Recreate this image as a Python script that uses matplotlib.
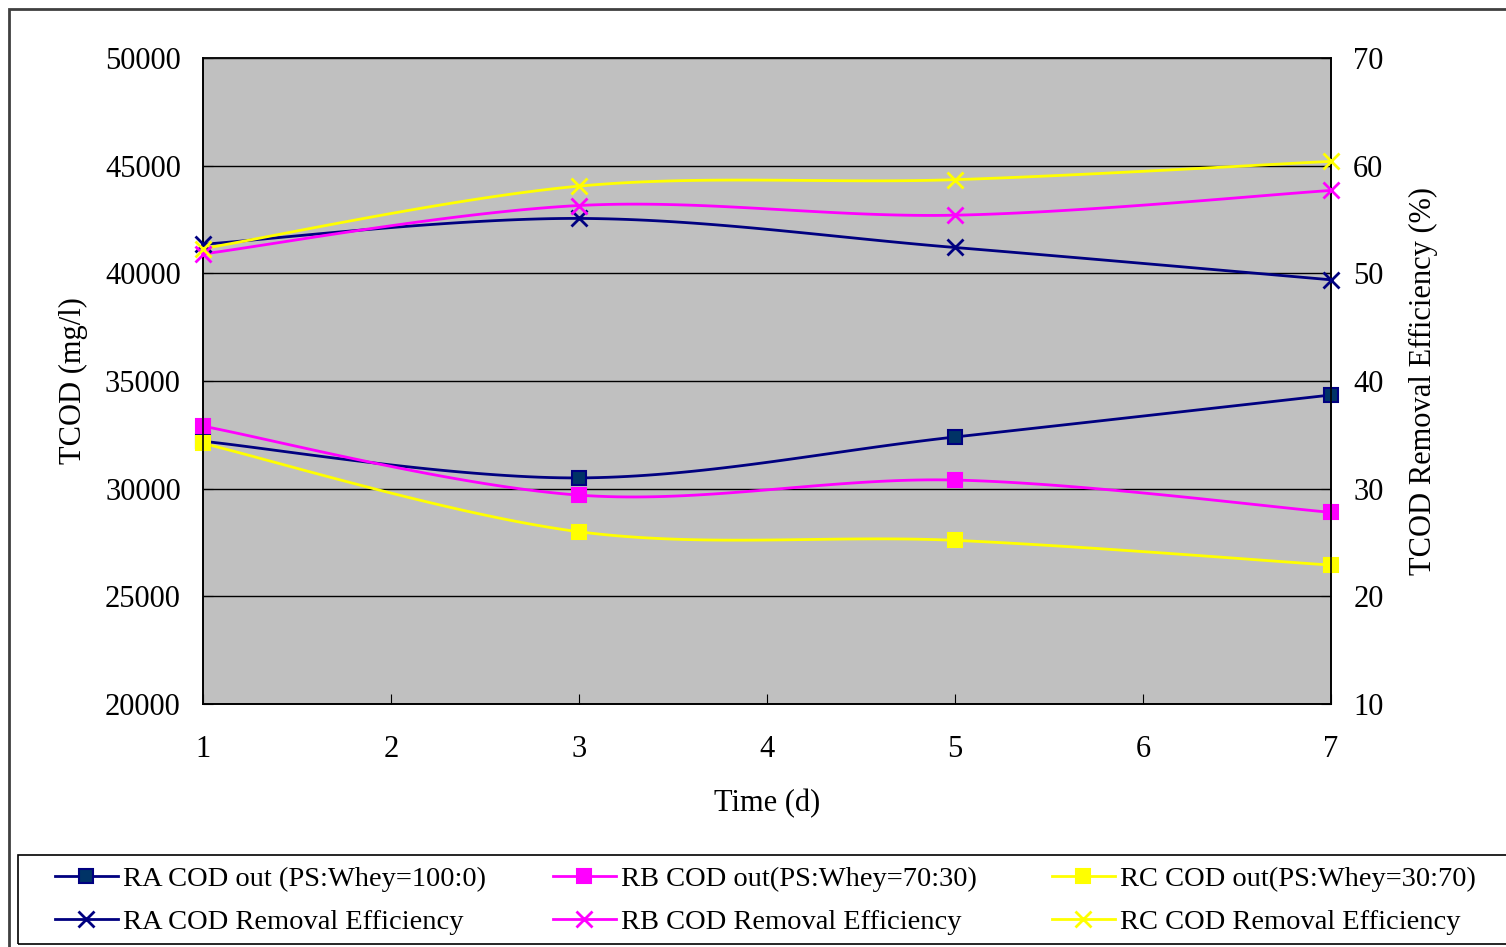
import matplotlib.pyplot as plt
from matplotlib.patches import Rectangle
import numpy as np

plt.rcParams['font.family'] = ['Liberation Serif', 'DejaVu Serif']

days = [1, 3, 5, 7]

# TCOD out (mg/l), left axis
ra_out = [32200, 30500, 32400, 34350]
rb_out = [32900, 29700, 30400, 28900]
rc_out = [32100, 28000, 27600, 26450]

# removal efficiency (%), right axis
ra_eff = [52.7, 55.1, 52.4, 49.4]
rb_eff = [51.8, 56.3, 55.4, 57.7]
rc_eff = [52.3, 58.1, 58.7, 60.4]


def smooth(x, y, n=40):
    # Excel-like smoothed line: cubic Bezier through each point
    x = np.asarray(x, float)
    y = np.asarray(y, float)
    px = np.concatenate([[x[0]], x, [x[-1]]])
    py = np.concatenate([[y[0]], y, [y[-1]]])
    xs, ys = [], []
    t = np.linspace(0, 1, n)
    for i in range(len(x) - 1):
        p0 = np.array([px[i + 1], py[i + 1]])
        p3 = np.array([px[i + 2], py[i + 2]])
        p1 = p0 + (np.array([px[i + 2], py[i + 2]]) - np.array([px[i], py[i]])) / 6
        p2 = p3 - (np.array([px[i + 3], py[i + 3]]) - np.array([px[i + 1], py[i + 1]])) / 6
        b = ((1 - t) ** 3)[:, None] * p0 + (3 * (1 - t) ** 2 * t)[:, None] * p1 \
            + (3 * (1 - t) * t ** 2)[:, None] * p2 + (t ** 3)[:, None] * p3
        xs.extend(b[:, 0])
        ys.extend(b[:, 1])
    return xs, ys


W, H = 1506, 947
fig = plt.figure(figsize=(W / 100, H / 100), dpi=100)
ax = fig.add_axes([203 / W, 1 - 704 / H, 1128 / W, 646 / H])
ax2 = ax.twinx()

ax.set_facecolor('#C0C0C0')
ax.set_zorder(0)
ax2.set_zorder(1)
ax2.patch.set_visible(False)

series = [
    (ax, ra_out, '#000080', 's', '#003366', 'RA COD out (PS:Whey=100:0)'),
    (ax2, ra_eff, '#000080', 'x', '#000080', 'RA COD Removal Efficiency'),
    (ax, rb_out, '#FF00FF', 's', '#FF00FF', 'RB COD out(PS:Whey=70:30)'),
    (ax2, rb_eff, '#FF00FF', 'x', '#FF00FF', 'RB COD Removal Efficiency'),
    (ax, rc_out, '#FFFF00', 's', '#FFFF00', 'RC COD out(PS:Whey=30:70)'),
    (ax2, rc_eff, '#FFFF00', 'x', '#FFFF00', 'RC COD Removal Efficiency'),
]

handles = []
for a, vals, col, mk, fc, lab in series:
    sx, sy = smooth(days, vals)
    a.plot(sx, sy, color=col, linewidth=2, zorder=3, clip_on=False)
    ms = 10 if mk == 's' else 12
    mew = 1.5 if mk == 's' else 2
    a.plot(days, vals, linestyle='none', marker=mk, markersize=ms,
           markerfacecolor=fc, markeredgecolor=col, markeredgewidth=mew,
           zorder=4, clip_on=False)
    h, = ax.plot([], [], color=col, linewidth=2, marker=mk, markersize=ms,
                 markerfacecolor=fc, markeredgecolor=col, markeredgewidth=mew,
                 label=lab)
    handles.append(h)

ax.set_xlim(1, 7)
ax.set_ylim(20000, 50000)
ax2.set_ylim(10, 70)
ax.set_xticks(range(1, 8))
ax.set_yticks(range(20000, 50001, 5000))
ax2.set_yticks(range(10, 71, 10))
ax.yaxis.grid(True, color='black', linewidth=1)
ax.set_axisbelow(True)

ax.tick_params(axis='y', direction='in', length=7, labelsize=22, pad=16)
ax.tick_params(axis='x', direction='in', length=7, labelsize=22, pad=22)
ax2.tick_params(axis='y', direction='in', length=7, labelsize=22, pad=16)

for a in (ax, ax2):
    for s in a.spines.values():
        s.set_color('black')
        s.set_linewidth(1.2)
ax.spines['top'].set_color('#606060')

ax.set_xlabel('Time (d)', fontsize=22, labelpad=18)
ax.set_ylabel('TCOD (mg/l)', fontsize=22, labelpad=12)
ax2.set_ylabel('TCOD Removal Efficiency (%)', fontsize=22, labelpad=18)

# legend: three columns of two rows, inside one frame
col_x = [55, 553, 1052]
for k in range(3):
    leg = fig.legend(handles=handles[2 * k:2 * k + 2], loc='upper left',
                     bbox_to_anchor=(col_x[k] / W, 1 - 866 / H),
                     frameon=False, fontsize=20.5, handlelength=2.2,
                     handletextpad=0.2, borderpad=0, borderaxespad=0,
                     labelspacing=0.6)
fig.patches.append(Rectangle((18 / W, 1 - 944 / H), 1.2, 89 / H,
                             transform=fig.transFigure, fill=False,
                             edgecolor='black', linewidth=1.2))

# outer chart border
fig.patches.append(Rectangle((9 / W, -0.1), 1.2, 1 - 9 / H + 0.1,
                             transform=fig.transFigure, fill=False,
                             edgecolor='#404040', linewidth=2))

fig.savefig('out.png', dpi=100)
